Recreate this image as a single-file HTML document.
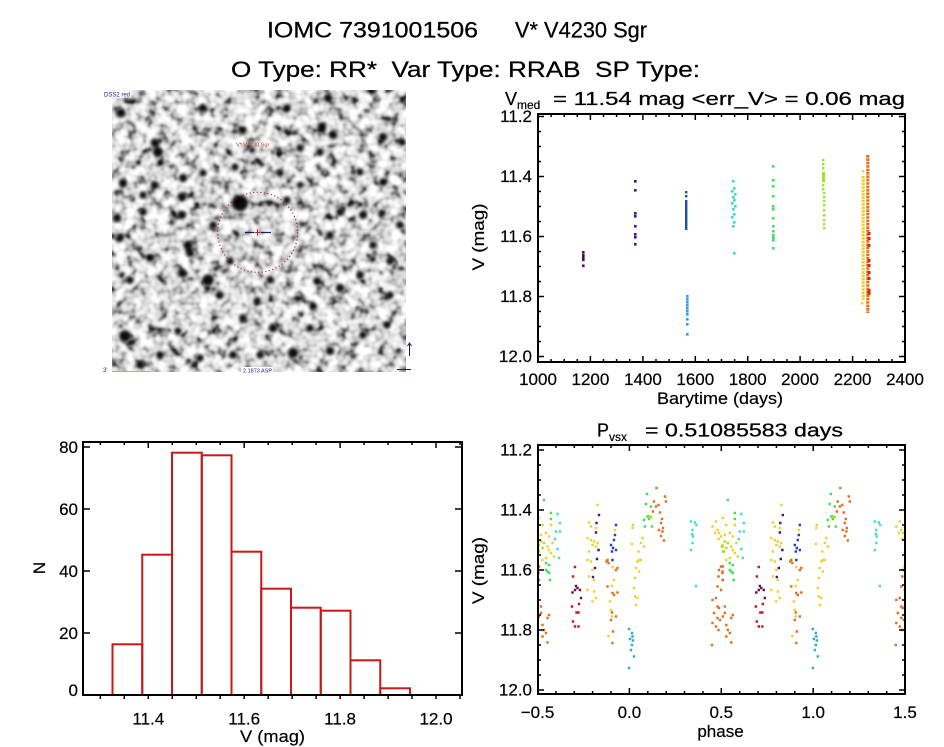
<!DOCTYPE html>
<html><head><meta charset="utf-8">
<style>
html,body{margin:0;padding:0;background:#fff;}
svg{display:block;}
text{font-family:"Liberation Sans",sans-serif;fill:#000;}
.t{stroke:#000;stroke-width:0.25;}
.s{stroke:#000;stroke-width:0.2;}
</style></head><body>
<svg width="944" height="747" viewBox="0 0 944 747" xmlns="http://www.w3.org/2000/svg">
<defs>
<filter id="tex" x="0" y="0" width="100%" height="100%" color-interpolation-filters="sRGB">
<feTurbulence type="fractalNoise" baseFrequency="0.095" numOctaves="2" seed="7"/>
<feColorMatrix type="matrix" values="1 0 0 0 0  1 0 0 0 0  1 0 0 0 0  0 0 0 0 1"/>
<feComponentTransfer>
<feFuncR type="table" tableValues="0 0.06 0.22 0.48 0.7 0.85 0.94 1 1 1 1"/>
<feFuncG type="table" tableValues="0 0.06 0.22 0.48 0.7 0.85 0.94 1 1 1 1"/>
<feFuncB type="table" tableValues="0 0.06 0.22 0.48 0.7 0.85 0.94 1 1 1 1"/>
</feComponentTransfer>
</filter>
<filter id="bl" x="-60%" y="-60%" width="220%" height="220%"><feGaussianBlur stdDeviation="1.6"/></filter>
<clipPath id="imgclip"><rect x="112" y="90" width="294" height="282"/></clipPath>
<clipPath id="ppclip"><rect x="539" y="446" width="365" height="247"/></clipPath>
<clipPath id="tpclip"><rect x="539" y="115" width="365" height="246"/></clipPath>
</defs>

<!-- Titles -->
<text class="t" x="267" y="37.5" font-size="22.5" textLength="211" lengthAdjust="spacingAndGlyphs">IOMC 7391001506</text>
<text class="t" x="515" y="37.5" font-size="22.5" textLength="132" lengthAdjust="spacingAndGlyphs">V* V4230 Sgr</text>
<text class="t" x="231" y="77" font-size="22.5" textLength="469" lengthAdjust="spacingAndGlyphs" style="white-space:pre">O Type: RR*  Var Type: RRAB  SP Type:</text>

<!-- Image panel -->
<rect x="112" y="90" width="294" height="282" fill="#ccc" filter="url(#tex)"/>
<g clip-path="url(#imgclip)" filter="url(#bl)" fill="#000" opacity="0.95">
<circle cx="240" cy="203" r="8.2"/><circle cx="208" cy="280" r="5.8"/><circle cx="125" cy="336" r="5.8"/>
<circle cx="158" cy="152" r="5.2"/><circle cx="293" cy="353" r="5.2"/><circle cx="188" cy="245" r="4.6"/><circle cx="190" cy="253" r="4.2"/>
<circle cx="121" cy="113" r="4.6"/><circle cx="333" cy="135" r="4.2"/><circle cx="322" cy="127" r="4.2"/><circle cx="328" cy="98" r="4.2"/>
<circle cx="383" cy="137" r="4.2"/><circle cx="402" cy="142" r="3.7"/><circle cx="203" cy="108" r="3.7"/><circle cx="243" cy="130" r="3.7"/>
<circle cx="287" cy="108" r="3.7"/><circle cx="252" cy="150" r="3.2"/><circle cx="183" cy="178" r="4.2"/><circle cx="203" cy="173" r="3.7"/>
<circle cx="235" cy="167" r="3.7"/><circle cx="123" cy="183" r="4.2"/><circle cx="155" cy="185" r="3.7"/><circle cx="182" cy="197" r="4.2"/>
<circle cx="143" cy="195" r="3.7"/><circle cx="300" cy="148" r="3.7"/><circle cx="280" cy="173" r="3.7"/><circle cx="320" cy="152" r="3.7"/>
<circle cx="360" cy="172" r="3.7"/><circle cx="383" cy="182" r="3.7"/><circle cx="363" cy="215" r="4.2"/><circle cx="382" cy="213" r="3.7"/>
<circle cx="340" cy="212" r="3.7"/><circle cx="300" cy="185" r="3.2"/><circle cx="117" cy="218" r="4.2"/><circle cx="143" cy="212" r="3.7"/>
<circle cx="182" cy="215" r="4.2"/><circle cx="213" cy="225" r="3.7"/><circle cx="287" cy="200" r="3.7"/><circle cx="400" cy="225" r="3.7"/>
<circle cx="120" cy="238" r="3.7"/><circle cx="150" cy="258" r="3.7"/><circle cx="130" cy="280" r="3.7"/><circle cx="182" cy="273" r="4.2"/>
<circle cx="230" cy="261" r="3.7"/><circle cx="270" cy="280" r="3.7"/><circle cx="317" cy="281" r="3.7"/><circle cx="340" cy="288" r="4.2"/>
<circle cx="330" cy="235" r="3.7"/><circle cx="373" cy="245" r="3.7"/><circle cx="390" cy="261" r="3.7"/><circle cx="360" cy="275" r="3.7"/>
<circle cx="390" cy="295" r="3.7"/><circle cx="313" cy="306" r="3.7"/><circle cx="257" cy="301" r="3.7"/><circle cx="220" cy="295" r="3.7"/>
<circle cx="243" cy="318" r="3.7"/><circle cx="273" cy="328" r="4.2"/><circle cx="310" cy="328" r="3.7"/><circle cx="363" cy="335" r="3.7"/>
<circle cx="387" cy="325" r="3.7"/><circle cx="178" cy="331" r="3.7"/><circle cx="160" cy="355" r="3.7"/><circle cx="200" cy="358" r="3.7"/>
<circle cx="140" cy="365" r="3.7"/><circle cx="233" cy="355" r="3.7"/><circle cx="260" cy="355" r="3.7"/><circle cx="330" cy="351" r="4.2"/>
<circle cx="155" cy="143" r="4.2"/>
</g>
<circle cx="257.7" cy="232.3" r="40" fill="none" stroke="#a01c2c" stroke-width="1" stroke-dasharray="1.2 2.4"/>
<path d="M245 232.5H254M261 232.5H271" stroke="#1a1a6a" stroke-width="1.2"/>
<path d="M257.5 229.5v6M254.5 232.5h6" stroke="#c02030" stroke-width="1"/>
<text x="236" y="146.5" font-size="5.5" style="fill:#c03030">V* V4230 Sgr</text>
<rect x="103" y="90.5" width="28" height="7" fill="#fff"/>
<text x="104" y="96.5" font-size="6" style="fill:#1a1a8a">DSS2 red</text>
<text x="103" y="372" font-size="6" style="fill:#333">3'</text>
<path d="M112 371.5H150" stroke="#9aa8e0" stroke-width="1"/>
<rect x="241" y="367" width="32" height="6" fill="#fff"/>
<text x="243" y="372.5" font-size="5.5" style="fill:#1a1a8a">2.1873 ASP</text>
<path d="M409.5 356V343M407.5 346L409.5 343L411.5 346M397 369.5H411" stroke="#1a1a6a" stroke-width="1" fill="none"/>

<!-- Top-right light curve -->
<text class="t" x="505" y="105" font-size="18">V</text>
<text class="s" x="517" y="109" font-size="12">med</text>
<text class="t" x="553" y="105" font-size="18" textLength="352" lengthAdjust="spacingAndGlyphs">= 11.54 mag &lt;err_V&gt; = 0.06 mag</text>

<g clip-path="url(#tpclip)">
<g fill="#4a0a5a"><rect x="582" y="251" width="2.6" height="2.6"/><rect x="582" y="254" width="2.6" height="2.6"/><rect x="582" y="256.5" width="2.6" height="2.6"/><rect x="582" y="258.5" width="2.6" height="2.6"/><rect x="582" y="264.5" width="2.6" height="2.6"/></g>
<g fill="#36168c"><rect x="634" y="180" width="2.6" height="2.6"/><rect x="634" y="189" width="2.6" height="2.6"/><rect x="634" y="212" width="2.6" height="2.6"/><rect x="634" y="215" width="2.6" height="2.6"/><rect x="634" y="225" width="2.6" height="2.6"/><rect x="634" y="233" width="2.6" height="2.6"/><rect x="634" y="236" width="2.6" height="2.6"/><rect x="634" y="243" width="2.6" height="2.6"/></g>
<g fill="#1e4cb0"><rect x="685" y="200" width="2.4" height="30"/><rect x="685" y="191" width="2.4" height="2.4"/><rect x="685" y="195" width="2.4" height="2.4"/></g>
<g fill="#2ea2da"><rect x="686" y="295" width="2.6" height="2.6"/><rect x="686" y="298" width="2.6" height="2.6"/><rect x="686" y="301" width="2.6" height="2.6"/><rect x="686" y="304" width="2.6" height="2.6"/><rect x="686" y="307" width="2.6" height="2.6"/><rect x="686" y="310" width="2.6" height="2.6"/><rect x="686" y="313" width="2.6" height="2.6"/><rect x="686" y="318" width="2.6" height="2.6"/><rect x="686" y="323" width="2.6" height="2.6"/><rect x="686" y="333" width="2.6" height="2.6"/></g>
<g fill="#38dcc4"><rect x="732" y="180" width="2.6" height="2.6"/><rect x="733" y="187" width="2.6" height="2.6"/><rect x="731" y="190" width="2.6" height="2.6"/><rect x="734" y="193" width="2.6" height="2.6"/><rect x="732" y="196" width="2.6" height="2.6"/><rect x="733" y="199" width="2.6" height="2.6"/><rect x="731" y="202" width="2.6" height="2.6"/><rect x="734" y="205" width="2.6" height="2.6"/><rect x="732" y="208" width="2.6" height="2.6"/><rect x="733" y="213" width="2.6" height="2.6"/><rect x="731" y="216" width="2.6" height="2.6"/><rect x="733" y="221" width="2.6" height="2.6"/><rect x="732" y="225" width="2.6" height="2.6"/><rect x="733" y="252" width="2.6" height="2.6"/></g>
<g fill="#38e070"><rect x="772" y="165" width="2.6" height="2.6"/><rect x="772" y="179" width="2.6" height="2.6"/><rect x="772" y="185" width="2.6" height="2.6"/><rect x="772" y="195" width="2.6" height="2.6"/><rect x="772" y="205" width="2.6" height="2.6"/><rect x="772" y="208" width="2.6" height="2.6"/><rect x="772" y="217" width="2.6" height="2.6"/><rect x="772" y="225" width="2.6" height="2.6"/><rect x="772" y="230" width="2.6" height="2.6"/><rect x="772" y="234" width="2.6" height="2.6"/><rect x="772" y="236.5" width="2.6" height="2.6"/><rect x="772" y="239" width="2.6" height="2.6"/><rect x="772" y="247" width="2.6" height="2.6"/></g>
<g fill="#98e828"><rect x="822" y="159" width="2.4" height="2.4"/><rect x="822" y="163" width="2.4" height="2.4"/><rect x="822" y="167" width="2.4" height="2.4"/><rect x="822" y="172" width="3" height="10"/><rect x="822" y="184" width="2.4" height="2.4"/><rect x="822" y="188" width="2.4" height="2.4"/><rect x="823" y="192" width="2.4" height="2.4"/><rect x="823" y="196" width="2.4" height="2.4"/><rect x="823" y="200" width="2.4" height="2.4"/><rect x="823" y="204" width="2.4" height="2.4"/><rect x="823" y="209" width="2.4" height="2.4"/><rect x="823" y="214" width="2.4" height="2.4"/><rect x="823" y="219" width="2.4" height="2.4"/><rect x="823" y="223" width="2.4" height="2.4"/><rect x="823" y="227" width="2.4" height="2.4"/></g>
<path d="M863.2 176V300" stroke="#f0d030" stroke-width="3.2" stroke-dasharray="2.6 0.8"/>
<g fill="#f0d030"><rect x="862" y="170" width="2.4" height="2.4"/><rect x="861" y="302" width="2.4" height="2.4"/></g>
<path d="M867.8 155V313" stroke="#e0701c" stroke-width="3.2" stroke-dasharray="2.6 0.8"/>
<g fill="#d82810"><rect x="867.5" y="232" width="3" height="3"/><rect x="867.5" y="237" width="3" height="3"/><rect x="867.5" y="244" width="3" height="3"/><rect x="867.5" y="259" width="3" height="3"/><rect x="867.5" y="264" width="3" height="3"/><rect x="867.5" y="271" width="3" height="3"/><rect x="867.5" y="277" width="3" height="3"/><rect x="867.5" y="289" width="3" height="3"/><rect x="867.5" y="292" width="3" height="3"/></g>
</g>

<rect x="538" y="114" width="367" height="248" fill="none" stroke="#000" stroke-width="2"/>
<path stroke="#000" stroke-width="1.5" fill="none" d="
M590.4 362v-6M642.9 362v-6M695.3 362v-6M747.7 362v-6M800.1 362v-6M852.6 362v-6
M590.4 114v6M642.9 114v6M695.3 114v6M747.7 114v6M800.1 114v6M852.6 114v6
M551.1 362v-3M564.2 362v-3M577.3 362v-3M603.5 362v-3M616.6 362v-3M629.7 362v-3M656 362v-3M669.1 362v-3M682.2 362v-3M708.4 362v-3M721.5 362v-3M734.6 362v-3M760.8 362v-3M773.9 362v-3M787 362v-3M813.2 362v-3M826.4 362v-3M839.5 362v-3M865.7 362v-3M878.8 362v-3M891.9 362v-3
M551.1 114v3M564.2 114v3M577.3 114v3M603.5 114v3M616.6 114v3M629.7 114v3M656 114v3M669.1 114v3M682.2 114v3M708.4 114v3M721.5 114v3M734.6 114v3M760.8 114v3M773.9 114v3M787 114v3M813.2 114v3M826.4 114v3M839.5 114v3M865.7 114v3M878.8 114v3M891.9 114v3
M538 116.5h6M538 176.5h6M538 236.5h6M538 296.5h6M538 356.5h6
M905 116.5h-6M905 176.5h-6M905 236.5h-6M905 296.5h-6M905 356.5h-6
M538 131.5h3M538 146.5h3M538 161.5h3M538 191.5h3M538 206.5h3M538 221.5h3M538 251.5h3M538 266.5h3M538 281.5h3M538 311.5h3M538 326.5h3M538 341.5h3
M905 131.5h-3M905 146.5h-3M905 161.5h-3M905 191.5h-3M905 206.5h-3M905 221.5h-3M905 251.5h-3M905 266.5h-3M905 281.5h-3M905 311.5h-3M905 326.5h-3M905 341.5h-3"/>
<g font-size="17" text-anchor="end" class="s">
<text x="532" y="122">11.2</text><text x="532" y="182">11.4</text><text x="532" y="242">11.6</text><text x="532" y="302">11.8</text><text x="532" y="362">12.0</text>
</g>
<g font-size="17" text-anchor="middle" class="s">
<text x="538" y="385">1000</text><text x="590.4" y="385">1200</text><text x="642.9" y="385">1400</text><text x="695.3" y="385">1600</text><text x="747.7" y="385">1800</text><text x="800.1" y="385">2000</text><text x="852.6" y="385">2200</text><text x="905" y="385">2400</text>
<text x="720" y="404" textLength="126" lengthAdjust="spacingAndGlyphs">Barytime (days)</text>
<text transform="translate(484,237) rotate(-90)" textLength="67" lengthAdjust="spacingAndGlyphs">V (mag)</text>
</g>

<!-- Histogram -->
<g fill="none" stroke="#c81818" stroke-width="2">
<rect x="112.5" y="644.3" width="29.75" height="50.7"/>
<rect x="142.25" y="554.7" width="29.75" height="140.3"/>
<rect x="172" y="452.7" width="29.75" height="242.3"/>
<rect x="201.75" y="455.3" width="29.75" height="239.7"/>
<rect x="231.5" y="551.7" width="29.75" height="143.3"/>
<rect x="261.25" y="588.7" width="29.75" height="106.3"/>
<rect x="291" y="607.7" width="29.75" height="87.3"/>
<rect x="320.75" y="610.7" width="29.75" height="84.3"/>
<rect x="350.5" y="660.3" width="29.75" height="34.7"/>
<rect x="380.25" y="688.3" width="29.75" height="6.7"/>
</g>
<rect x="83" y="442" width="379" height="253" fill="none" stroke="#000" stroke-width="2"/>
<path stroke="#000" stroke-width="1.5" fill="none" d="
M83 447h7M83 509h7M83 571h7M83 633h7
M462 447h-7M462 509h-7M462 571h-7M462 633h-7
M148.3 442v6M244.2 442v6M340.1 442v6M436 442v6
M100.35 442v3M124.3 442v3M172.3 442v3M196.3 442v3M220.2 442v3M268.2 442v3M292.2 442v3M316.1 442v3M364.1 442v3M388.1 442v3M412 442v3M460 442v3
M100.35 695v4M124.3 695v4M148.3 695v4M172.3 695v4M196.3 695v4M220.2 695v4M244.2 695v4M268.2 695v4M292.2 695v4M316.1 695v4M340.1 695v4M364.1 695v4M388.1 695v4M412 695v4M436 695v4M460 695v4"/>
<g font-size="17" text-anchor="end" class="s">
<text x="78" y="453">80</text><text x="78" y="515">60</text><text x="78" y="577">40</text><text x="78" y="639">20</text><text x="78" y="696">0</text>
</g>
<g font-size="17" text-anchor="middle" class="s">
<text x="148.3" y="724.5">11.4</text><text x="244.2" y="724.5">11.6</text><text x="340.1" y="724.5">11.8</text><text x="436" y="724.5">12.0</text>
<text x="272.5" y="742" textLength="65" lengthAdjust="spacingAndGlyphs">V (mag)</text>
<text transform="translate(45,568) rotate(-90)">N</text>
</g>

<!-- Phase plot -->
<text class="t" x="597" y="436.5" font-size="18">P</text>
<text class="s" x="609" y="441" font-size="12">vsx</text>
<text class="t" x="645" y="436.5" font-size="18" textLength="198" lengthAdjust="spacingAndGlyphs">= 0.51085583 days</text>

<g clip-path="url(#ppclip)">
<g id="pp" transform="translate(-1.2,-1.2)">
<path fill="#40e050" d="M544 500h2.4v2.4h-2.4zM551 513h2.4v2.4h-2.4zM551 519h2.4v2.4h-2.4zM549 565h2.4v2.4h-2.4zM547.5 571.5h2.4v2.4h-2.4zM549 573h2.4v2.4h-2.4zM546 570h2.4v2.4h-2.4zM550 580h2.4v2.4h-2.4zM546 563h2.4v2.4h-2.4zM647 494h2.4v2.4h-2.4zM646 504h2.4v2.4h-2.4zM651 506.5h2.4v2.4h-2.4zM647.5 516.5h2.4v2.4h-2.4zM644 520h2.4v2.4h-2.4zM649 519h2.4v2.4h-2.4zM652 526.5h2.4v2.4h-2.4zM645 526.5h2.4v2.4h-2.4z"/>
<path fill="#40e0c8" d="M557.5 514h2.4v2.4h-2.4zM560 523h2.4v2.4h-2.4zM556 531.5h2.4v2.4h-2.4zM560 531.5h2.4v2.4h-2.4zM557.5 549h2.4v2.4h-2.4zM559 558h2.4v2.4h-2.4zM555 539h2.4v2.4h-2.4zM691 521.5h2.4v2.4h-2.4zM695 522.5h2.4v2.4h-2.4zM696.5 525h2.4v2.4h-2.4zM692.5 530h2.4v2.4h-2.4zM692 534h2.4v2.4h-2.4zM693 536.5h2.4v2.4h-2.4zM692.5 543h2.4v2.4h-2.4zM691 550h2.4v2.4h-2.4zM696 586h2.4v2.4h-2.4z"/>
<path fill="#f0d030" d="M539 518h2.4v2.4h-2.4zM542.5 525h2.4v2.4h-2.4zM551 525h2.4v2.4h-2.4zM546 533h2.4v2.4h-2.4zM541 535h2.4v2.4h-2.4zM549 536.5h2.4v2.4h-2.4zM552.5 543h2.4v2.4h-2.4zM547.5 546.5h2.4v2.4h-2.4zM551 553h2.4v2.4h-2.4zM546 558h2.4v2.4h-2.4zM542.5 560h2.4v2.4h-2.4zM539 545h2.4v2.4h-2.4zM554 556.5h2.4v2.4h-2.4zM549 550h2.4v2.4h-2.4z
M597.5 505h2.4v2.4h-2.4zM589 522.5h2.4v2.4h-2.4zM591 526.5h2.4v2.4h-2.4zM596 528h2.4v2.4h-2.4zM587.5 538h2.4v2.4h-2.4zM591 540h2.4v2.4h-2.4zM594 541.5h2.4v2.4h-2.4zM597.5 543h2.4v2.4h-2.4zM592.5 545h2.4v2.4h-2.4zM596 546.5h2.4v2.4h-2.4zM599 550h2.4v2.4h-2.4zM589 551.5h2.4v2.4h-2.4zM587.5 560h2.4v2.4h-2.4zM591 561.5h2.4v2.4h-2.4zM592.5 570h2.4v2.4h-2.4zM589 576.5h2.4v2.4h-2.4zM594 580h2.4v2.4h-2.4zM587.5 590h2.4v2.4h-2.4zM594 591.5h2.4v2.4h-2.4zM596 598h2.4v2.4h-2.4zM592.5 601.5h2.4v2.4h-2.4z
M615 530h2.4v2.4h-2.4zM612.5 567h2.4v2.4h-2.4zM614 580h2.4v2.4h-2.4zM612 586h2.4v2.4h-2.4zM610 601.5h2.4v2.4h-2.4zM611 610h2.4v2.4h-2.4zM612 616.5h2.4v2.4h-2.4zM608.5 636h2.4v2.4h-2.4z
M633 525h2.4v2.4h-2.4zM632.5 528h2.4v2.4h-2.4zM642.5 538h2.4v2.4h-2.4zM641 543h2.4v2.4h-2.4zM644 546.5h2.4v2.4h-2.4zM632 544h2.4v2.4h-2.4zM638.5 551.5h2.4v2.4h-2.4zM639 560h2.4v2.4h-2.4zM637.5 561.5h2.4v2.4h-2.4zM641 560h2.4v2.4h-2.4zM636 568h2.4v2.4h-2.4zM639 571.5h2.4v2.4h-2.4zM635 578h2.4v2.4h-2.4zM634 588h2.4v2.4h-2.4zM635 596.5h2.4v2.4h-2.4zM637.5 598h2.4v2.4h-2.4zM636 605h2.4v2.4h-2.4z
M712.5 526.5h2.4v2.4h-2.4zM716 521.5h2.4v2.4h-2.4zM717.5 530h2.4v2.4h-2.4zM719 533h2.4v2.4h-2.4zM721 536.5h2.4v2.4h-2.4zM715 533h2.4v2.4h-2.4zM718.5 539h2.4v2.4h-2.4z"/>
<path fill="#a0e020" d="M541 541.5h2.4v2.4h-2.4zM542.5 548h2.4v2.4h-2.4zM539 551.5h2.4v2.4h-2.4zM544 543h2.4v2.4h-2.4zM538 546.5h2.4v2.4h-2.4zM649 516h2.4v2.4h-2.4zM651 517h2.4v2.4h-2.4zM722.5 546.5h2.4v2.4h-2.4zM724 551.5h2.4v2.4h-2.4z"/>
<path fill="#e07020" d="M539 566.5h2.4v2.4h-2.4zM538.5 573h2.4v2.4h-2.4zM539 580h2.4v2.4h-2.4zM541 606.5h2.4v2.4h-2.4zM541 613h2.4v2.4h-2.4zM549 615h2.4v2.4h-2.4zM547.5 618h2.4v2.4h-2.4zM542.5 625h2.4v2.4h-2.4zM544 630h2.4v2.4h-2.4zM546 633h2.4v2.4h-2.4zM542.5 636.5h2.4v2.4h-2.4zM547.5 642.5h2.4v2.4h-2.4zM539 616.5h2.4v2.4h-2.4z
M607.5 560h2.4v2.4h-2.4zM606.5 561.5h2.4v2.4h-2.4zM608.5 563h2.4v2.4h-2.4zM617.5 568h2.4v2.4h-2.4zM616 570h2.4v2.4h-2.4zM607.5 586.5h2.4v2.4h-2.4zM612.5 593h2.4v2.4h-2.4zM614 595h2.4v2.4h-2.4zM617.5 592.5h2.4v2.4h-2.4zM612 612.5h2.4v2.4h-2.4zM616 616.5h2.4v2.4h-2.4zM613 631.5h2.4v2.4h-2.4zM612.5 643h2.4v2.4h-2.4zM611 620h2.4v2.4h-2.4z
M656.5 488h2.4v2.4h-2.4zM665 496.5h2.4v2.4h-2.4zM666 501.5h2.4v2.4h-2.4zM654 501.5h2.4v2.4h-2.4zM656 506.5h2.4v2.4h-2.4zM658.5 505h2.4v2.4h-2.4zM653 511.5h2.4v2.4h-2.4zM660 512.5h2.4v2.4h-2.4zM662 519h2.4v2.4h-2.4zM661 523h2.4v2.4h-2.4zM659 530h2.4v2.4h-2.4zM662.5 531.5h2.4v2.4h-2.4zM661 536h2.4v2.4h-2.4zM664 540.5h2.4v2.4h-2.4zM663 528h2.4v2.4h-2.4z
M721 566.5h2.4v2.4h-2.4zM719 570h2.4v2.4h-2.4zM722.5 571.5h2.4v2.4h-2.4zM718.5 576.5h2.4v2.4h-2.4zM722.5 580h2.4v2.4h-2.4zM717.5 586.5h2.4v2.4h-2.4zM721 590h2.4v2.4h-2.4zM716 598h2.4v2.4h-2.4zM712.5 600h2.4v2.4h-2.4zM717.5 606.5h2.4v2.4h-2.4zM719 608h2.4v2.4h-2.4zM714 613h2.4v2.4h-2.4zM717.5 618h2.4v2.4h-2.4zM712.5 623h2.4v2.4h-2.4zM716 626.5h2.4v2.4h-2.4zM718.5 630h2.4v2.4h-2.4zM712 645h2.4v2.4h-2.4zM720 620h2.4v2.4h-2.4z"/>
<path fill="#c81818" d="M575 567h2.4v2.4h-2.4zM573 576.5h2.4v2.4h-2.4zM572 606.5h2.4v2.4h-2.4zM576.5 612.5h2.4v2.4h-2.4zM578.5 612.5h2.4v2.4h-2.4zM573 621.5h2.4v2.4h-2.4zM575 626.5h2.4v2.4h-2.4zM578.5 626.5h2.4v2.4h-2.4zM579 604h2.4v2.4h-2.4z"/>
<path fill="#701040" d="M572.5 592.5h2.4v2.4h-2.4zM575 590h2.4v2.4h-2.4zM577.5 588h2.4v2.4h-2.4zM580 590h2.4v2.4h-2.4zM576 586h2.4v2.4h-2.4zM581 598h2.4v2.4h-2.4z"/>
<path fill="#3a1a8c" d="M599 515h2.4v2.4h-2.4zM596.5 523h2.4v2.4h-2.4zM596 532.5h2.4v2.4h-2.4zM598.5 550h2.4v2.4h-2.4zM597 559h2.4v2.4h-2.4zM595 568h2.4v2.4h-2.4zM593 577h2.4v2.4h-2.4z"/>
<path fill="#2040c0" d="M616 525h2.4v2.4h-2.4zM615 535h2.4v2.4h-2.4zM611 545h2.4v2.4h-2.4zM613 548h2.4v2.4h-2.4zM616 550h2.4v2.4h-2.4zM612 551.5h2.4v2.4h-2.4zM612.5 560h2.4v2.4h-2.4zM614 540h2.4v2.4h-2.4z"/>
<path fill="#30a8d8" d="M629 629h2.4v2.4h-2.4zM632 633h2.4v2.4h-2.4zM630 639h2.4v2.4h-2.4zM633 640.5h2.4v2.4h-2.4zM632 645h2.4v2.4h-2.4zM631 650h2.4v2.4h-2.4zM634 656.5h2.4v2.4h-2.4zM629 668h2.4v2.4h-2.4zM632.5 636.5h2.4v2.4h-2.4z"/>
</g>
<use href="#pp" transform="translate(183.8,0)"/>
</g>

<rect x="538" y="445" width="367" height="249" fill="none" stroke="#000" stroke-width="2"/>
<path stroke="#000" stroke-width="1.5" fill="none" d="
M629.4 694v-6M721.3 694v-6M813.2 694v-6M629.4 445v6M721.3 445v6M813.2 445v6
M555.9 694v-3M574.3 694v-3M592.6 694v-3M611 694v-3M647.8 694v-3M666.2 694v-3M684.5 694v-3M702.9 694v-3M739.7 694v-3M758 694v-3M776.4 694v-3M794.8 694v-3M831.6 694v-3M849.9 694v-3M868.3 694v-3M886.7 694v-3
M555.9 445v3M574.3 445v3M592.6 445v3M611 445v3M647.8 445v3M666.2 445v3M684.5 445v3M702.9 445v3M739.7 445v3M758 445v3M776.4 445v3M794.8 445v3M831.6 445v3M849.9 445v3M868.3 445v3M886.7 445v3
M538 450h6M538 510h6M538 570h6M538 630h6M538 690h6
M905 450h-6M905 510h-6M905 570h-6M905 630h-6M905 690h-6
M538 465h3M538 480h3M538 495h3M538 525h3M538 540h3M538 555h3M538 585h3M538 600h3M538 615h3M538 645h3M538 660h3M538 675h3
M905 465h-3M905 480h-3M905 495h-3M905 525h-3M905 540h-3M905 555h-3M905 585h-3M905 600h-3M905 615h-3M905 645h-3M905 660h-3M905 675h-3"/>
<g font-size="17" text-anchor="end" class="s">
<text x="532" y="455.5">11.2</text><text x="532" y="515.5">11.4</text><text x="532" y="575.5">11.6</text><text x="532" y="635.5">11.8</text><text x="532" y="695.5">12.0</text>
</g>
<g font-size="17" text-anchor="middle" class="s">
<text x="537.5" y="718">−0.5</text><text x="629.4" y="718">0.0</text><text x="721.3" y="718">0.5</text><text x="813.2" y="718">1.0</text><text x="905" y="718">1.5</text>
<text x="720.5" y="737">phase</text>
<text transform="translate(484,570.5) rotate(-90)" textLength="67" lengthAdjust="spacingAndGlyphs">V (mag)</text>
</g>
</svg>
</body></html>
